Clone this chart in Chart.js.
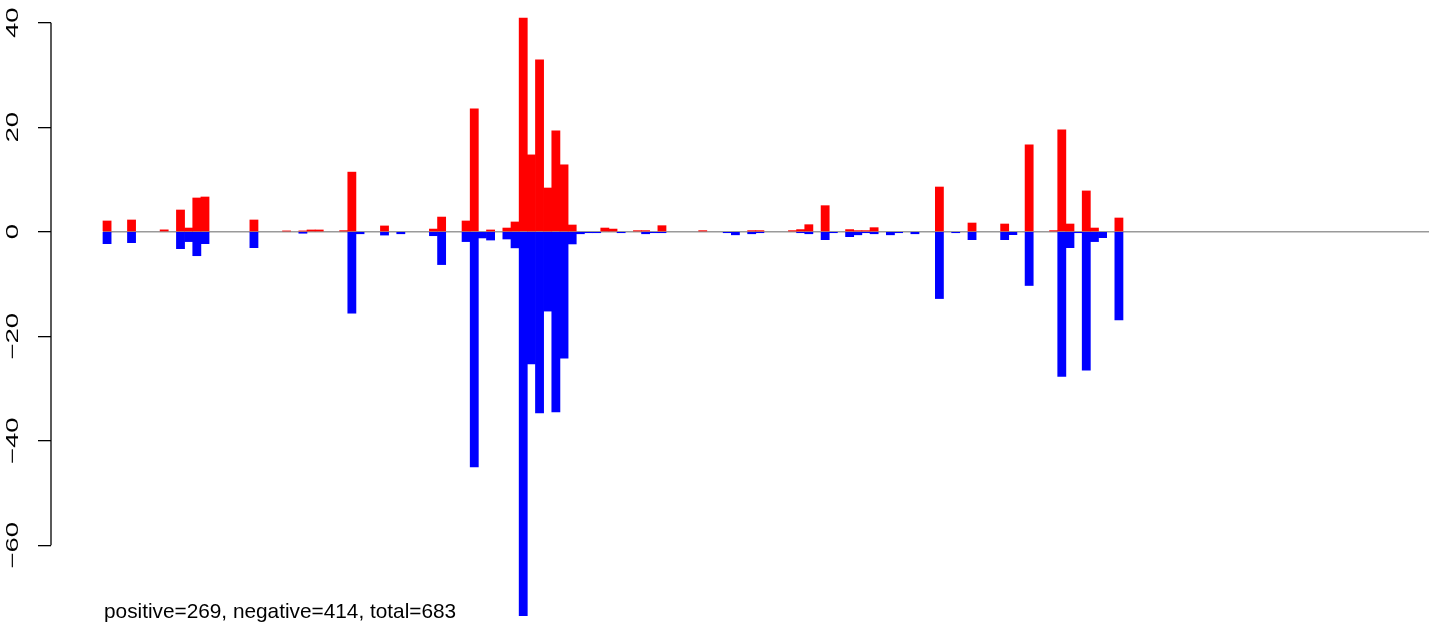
<!DOCTYPE html>
<html>
<head>
<meta charset="utf-8">
<script src="https://cdn.jsdelivr.net/npm/chart.js@4.4.0/dist/chart.umd.min.js"></script>
<style>
  html, body { margin: 0; padding: 0; background: #fff; overflow: hidden; }
  #wrap { position: relative; width: 1429px; height: 622px; }
  #note {
    position: absolute; left: 104px; top: 601px;
    font: 20.8px "Liberation Sans", Arial, sans-serif; line-height: 20.8px;
    color: #000; white-space: nowrap;
  }
</style>
</head>
<body>
<div id="wrap">
  <canvas id="chart"></canvas>
  <div id="note"></div>
</div>
<script>
// bar values, one slot per position (0 = no bar)
const positive = [
  2.05, 0, 0, 2.24, 0, 0, 0, 0.35, 0, 4.15,
  0.7, 6.45, 6.64, 0, 0, 0, 0, 0, 2.24, 0,
  0, 0, 0.15, 0, 0.15, 0.33, 0.33, 0, 0, 0.2,
  11.4, 0, 0, 0, 1.1, 0, 0, 0, 0, 0,
  0.5, 2.8, 0, 0, 2.05, 23.5, 0, 0.33, 0, 0.7,
  1.86, 40.9, 14.7, 32.9, 8.36, 19.3, 12.8, 1.28, 0, 0,
  0, 0.7, 0.5, 0, 0, 0.2, 0.2, 0, 1.15, 0,
  0, 0, 0, 0.2, 0, 0, 0, 0, 0, 0.2,
  0.2, 0, 0, 0, 0.2, 0.4, 1.34, 0, 4.98, 0,
  0, 0.4, 0.2, 0.2, 0.77, 0, 0, 0, 0, 0,
  0, 0, 8.55, 0, 0, 0, 1.66, 0, 0, 0,
  1.47, 0, 0, 16.6, 0, 0, 0.2, 19.5, 1.47, 0,
  7.8, 0.7, 0, 0, 2.62
];
const negative = [
  -2.3, 0, 0, -2.1, 0, 0, 0, 0, 0, -3.25,
  -1.9, -4.6, -2.3, 0, 0, 0, 0, 0, -3.06, 0,
  0, 0, 0, 0, -0.3, 0, 0, 0, 0, 0,
  -15.6, -0.4, 0, 0, -0.65, 0, -0.4, 0, 0, 0,
  -0.77, -6.3, 0, 0, -1.9, -45, -1.2, -1.6, 0, -1.4,
  -3.1, -73.5, -25.3, -34.7, -15.2, -34.5, -24.2, -2.35, -0.4, -0.2,
  -0.2, 0, 0, -0.2, 0, 0, -0.4, -0.2, -0.2, 0,
  0, 0, 0, 0, 0, 0, -0.2, -0.6, 0, -0.4,
  -0.2, 0, 0, 0, 0, -0.2, -0.4, 0, -1.53, -0.2,
  0, -0.96, -0.6, -0.2, -0.4, 0, -0.6, -0.2, 0, -0.4,
  0, 0, -12.8, 0, -0.2, 0, -1.53, 0, 0, 0,
  -1.53, -0.57, 0, -10.3, 0, 0, 0, -27.7, -3.06, -0.2,
  -26.5, -1.9, -1.15, 0, -16.9
];
const yTicks = [-60, -40, -20, 0, 20, 40];
const xRange = [-6.37, 162.5];
const yRange = [-74.7, 44.34];
const summary = 'positive=269, negative=414, total=683';

document.getElementById('note').textContent = summary;

function toPoints(values) {
  return values.map((v, i) => ({ x: i + 0.5, y: v === 0 ? null : v }));
}

// R style axis: line only between first and last tick, labels along the axis
const rAxis = {
  id: 'rAxis',
  afterDraw(chart) {
    const s = chart.scales.y;
    const ctx = chart.ctx;
    ctx.save();
    ctx.strokeStyle = '#000';
    ctx.lineWidth = 1.3;
    ctx.beginPath();
    ctx.moveTo(s.right, s.getPixelForValue(yTicks[0]));
    ctx.lineTo(s.right, s.getPixelForValue(yTicks[yTicks.length - 1]));
    ctx.stroke();

    ctx.fillStyle = '#000';
    ctx.font = '17px "Liberation Sans", Arial, sans-serif';
    ctx.textAlign = 'center';
    ctx.textBaseline = 'alphabetic';
    s.ticks.forEach(t => {
      ctx.save();
      ctx.translate(s.right - 33.5, s.getPixelForValue(t.value));
      ctx.rotate(-Math.PI / 2);
      ctx.scale(1.62, 1);
      ctx.fillText(String(t.value).replace('-', '\u2212'), 0, 0);
      ctx.restore();
    });
    ctx.restore();
  }
};

new Chart(document.getElementById('chart'), {
  type: 'bar',
  data: {
    datasets: [
      {
        label: 'positive', data: toPoints(positive),
        backgroundColor: '#ff0000', borderWidth: 0,
        grouped: false, barPercentage: 1, categoryPercentage: 1, order: 1
      },
      {
        label: 'negative', data: toPoints(negative),
        backgroundColor: '#0000ff', borderWidth: 0,
        grouped: false, barPercentage: 1, categoryPercentage: 1, order: 1
      },
      {
        type: 'line', label: 'zero',
        data: [{ x: 0, y: 0 }, { x: xRange[1], y: 0 }],
        borderColor: '#9a9a9a', borderWidth: 1.4, pointRadius: 0, order: 2
      }
    ]
  },
  options: {
    responsive: true,
    maintainAspectRatio: false,
    animation: false,
    layout: { padding: 0 },
    plugins: { legend: { display: false }, tooltip: { enabled: false } },
    scales: {
      x: { type: 'linear', offset: false, min: xRange[0], max: xRange[1], display: false },
      y: {
        min: yRange[0], max: yRange[1],
        afterBuildTicks: s => { s.ticks = yTicks.map(v => ({ value: v })); },
        afterFit: s => { s.width = 51; s.paddingTop = 0; s.paddingBottom = 0; },
        border: { display: false },
        grid: { drawOnChartArea: false, drawTicks: true, tickLength: 13, color: '#000', lineWidth: 1.3 },
        ticks: { display: false }
      }
    }
  },
  plugins: [rAxis]
});
</script>
</body>
</html>
